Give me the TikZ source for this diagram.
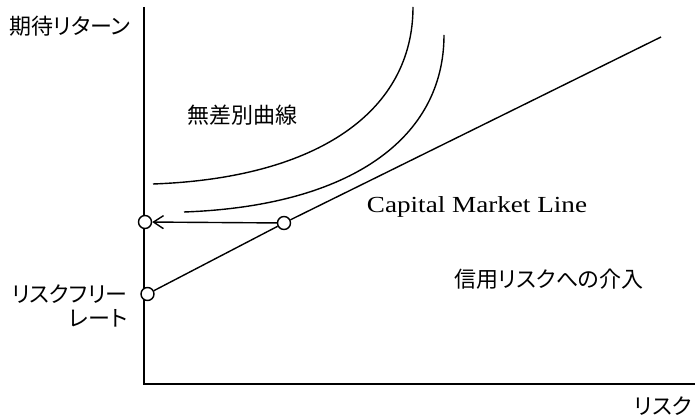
\documentclass[tikz,border=0pt]{standalone}
\usepackage{fontspec}
\newfontfamily\jp[RawFeature=+palt]{Noto Sans CJK JP}
\newfontfamily\cmlfont{Liberation Serif}
\usetikzlibrary{arrows.meta}
\begin{document}
\begin{tikzpicture}[x=1pt,y=-1pt,line width=1.4pt,
  jl/.style={font=\jp\fontsize{22}{24}\selectfont, inner sep=0},
  pt/.style={circle, draw, fill=white, minimum size=13pt, inner sep=0},
  crv/.style={line width=1.4pt}]
\useasboundingbox (0,0) rectangle (697,419);
\coordinate (ytop) at (144,7);
\coordinate (orig) at (144,384);
\coordinate (xend) at (695,384);
\draw (ytop) -- (orig) -- (xend);
\draw[crv] (153,184) .. controls (320,178) and (413,110) .. (413,7);
\draw[crv] (184,212) .. controls (351,206) and (444,138) .. (444,35);
\node[pt] (rf) at (147.5,294) {};
\node[pt] (ret) at (145,222) {};
\node[pt] (p) at (284,223) {};
\coordinate (cmlend) at (661,37);
\draw (rf) -- (p) -- (cmlend);
\draw[-{Straight Barb[length=10pt,width=13pt]}] (p) -- (ret);
\node[jl] (ylab) at (70,26) {期待リターン};
\node[jl] (xlab) at (663,406) {リスク};
\node[jl, align=right, anchor=east] (rflab) at (128,306) {リスクフリー\\レート};
\node[jl] (ic) at (242,115) {無差別曲線};
\node[jl] (cr) at (549,279) {信用リスクへの介入};
\node[font=\cmlfont\fontsize{23}{26}\selectfont, anchor=base, inner sep=0] (cml) at (477,213) {\scalebox{1.18}[1]{Capital Market Line}};
\end{tikzpicture}
\end{document}
